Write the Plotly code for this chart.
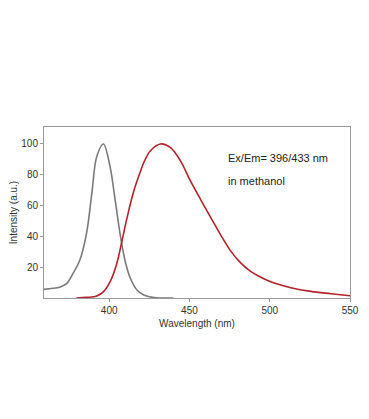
import plotly.graph_objects as go

ex_wl = [359.4, 365, 369.2, 373.4, 377.5, 381.7, 385.9, 389.2, 392.3, 396.4, 400.6, 403.8, 406.9, 410.0, 413.2, 417.3, 421.5, 428.0, 440.0]
ex_int = [5.6, 6.3, 7.0, 9.3, 16.0, 24.5, 42.0, 68.0, 92.0, 100.0, 85.0, 63.0, 41.0, 23.7, 12.8, 5.2, 2.0, 0.3, 0.0]

em_wl = [379.6, 386, 392.3, 396.5, 400.6, 404.8, 407.9, 411.1, 415.2, 419.4, 421.5, 425.7, 431.9, 438.2, 444.4,
         450.6, 456.9, 463.1, 469.4, 475.6, 481.9, 488.1, 494.4, 500.6, 506.9, 513.1, 525.6, 538.1, 550.0]
em_int = [0.0, 0.4, 1.3, 4.1, 10.6, 22.6, 36.7, 52.0, 69.0, 82.0, 87.8, 95.6, 100.0, 97.6, 89.0,
          76.0, 64.0, 52.5, 41.0, 30.6, 22.8, 17.3, 13.5, 10.6, 8.5, 6.7, 4.3, 2.8, 1.5]

x_ticks = [400, 450, 500, 550]
y_ticks = [20, 40, 60, 80, 100]

fig = go.Figure()
fig.add_trace(go.Scatter(x=ex_wl, y=ex_int, mode="lines", line=dict(color="#7a7a7a", width=1.6, shape="spline"),
                         name="Excitation", showlegend=False))
fig.add_trace(go.Scatter(x=em_wl, y=em_int, mode="lines", line=dict(color="#b5222a", width=1.6, shape="spline"),
                         name="Emission", showlegend=False))

font = dict(family="Liberation Sans, Arial, sans-serif", size=10, color="#333333")
# page body adds an 8px default margin, compensated here
fig.update_layout(
    width=353, height=403,
    margin=dict(l=36, r=11, t=119, b=113),
    paper_bgcolor="white", plot_bgcolor="white",
    font=font,
    xaxis=dict(range=[359.4, 550], tickvals=x_ticks, showgrid=False, zeroline=False, automargin=False,
               showline=True, linecolor="#999999", linewidth=1, mirror=True,
               ticks="outside", ticklen=3, tickcolor="#999999",
               title=dict(text="Wavelength (nm)", font=dict(size=10, color="#333333"), standoff=4)),
    yaxis=dict(range=[0, 111], tickvals=y_ticks, showgrid=False, zeroline=False, automargin=False,
               showline=True, linecolor="#999999", linewidth=1, mirror=True,
               ticks="outside", ticklen=3, tickcolor="#999999",
               title=dict(text="Intensity (a.u.)", font=dict(size=10, color="#333333"), standoff=6)),
    annotations=[
        dict(x=0.595, y=0.82, xref="paper", yref="paper", xanchor="left", yanchor="middle",
             text="Ex/Em= 396/433 nm", showarrow=False, font=dict(size=11, color="#222222")),
        dict(x=0.595, y=0.685, xref="paper", yref="paper", xanchor="left", yanchor="middle",
             text="in methanol", showarrow=False, font=dict(size=11, color="#222222")),
    ],
)

fig.write_html("out.html")
